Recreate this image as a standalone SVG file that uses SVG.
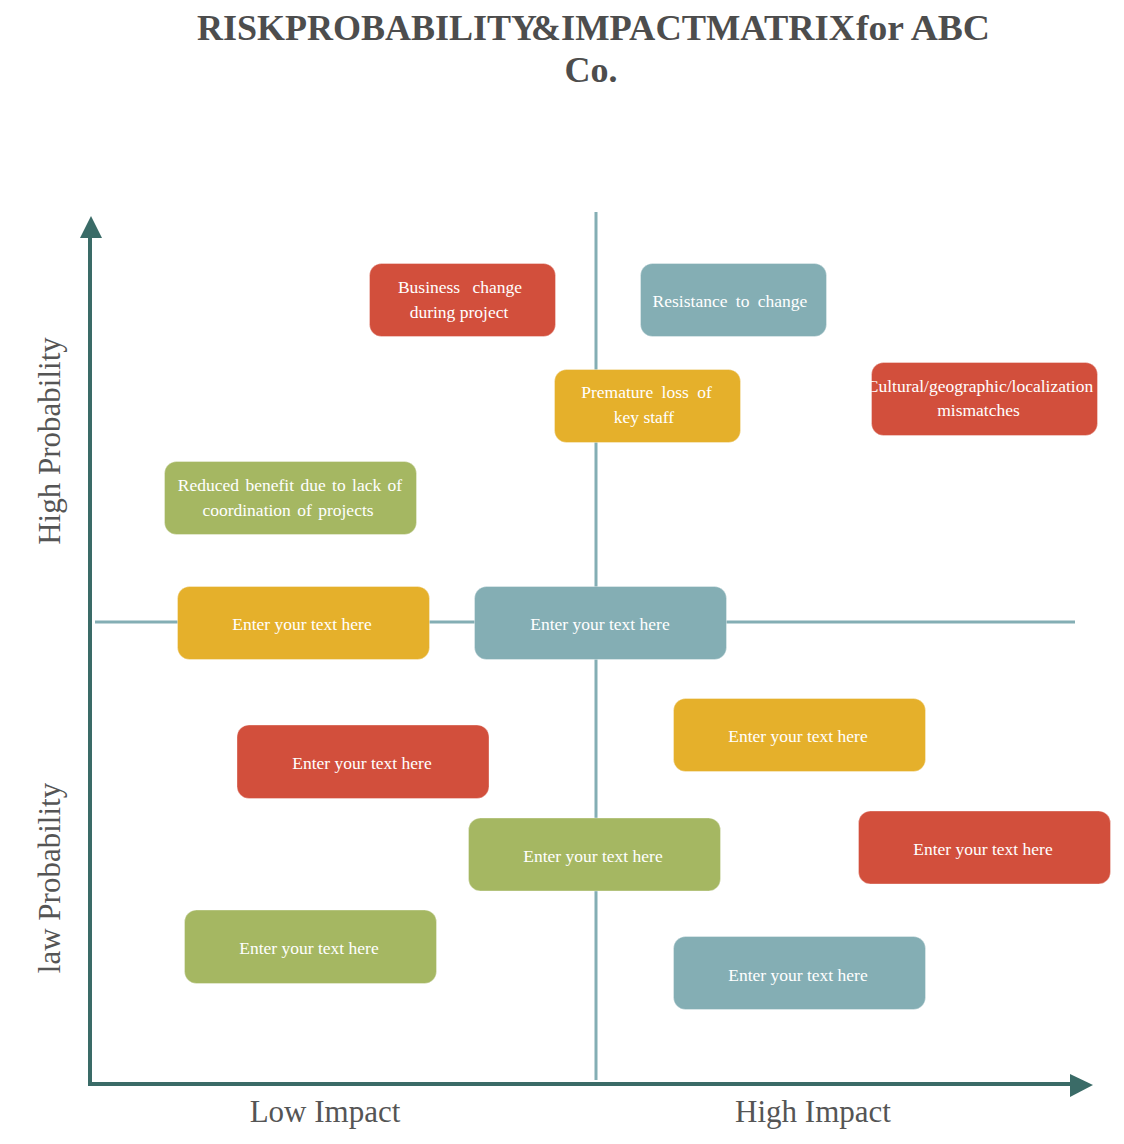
<svg xmlns="http://www.w3.org/2000/svg" width="1124" height="1144" viewBox="0 0 1124 1144">
<style>
.title{font-family:"Liberation Serif","Times New Roman",serif;font-weight:bold;font-size:36px;fill:#4D4D4D}
.axl{font-family:"Liberation Serif","Times New Roman",serif;font-size:31px;fill:#555555;text-anchor:middle}
.bt{font-family:"Liberation Serif","Times New Roman",serif;font-size:17.5px;fill:#FFFFFF;text-anchor:middle}
.box{stroke-width:1;stroke:#FFFFFF;stroke-opacity:0.35}
.red{fill:#D24F3C}
.teal{fill:#84AEB4}
.yel{fill:#E5B02B}
.grn{fill:#A5B762}
.axis{stroke:#3A6B67;stroke-width:4;fill:none}
.cross{stroke:#84AEB4;stroke-width:3;fill:none}
</style>
<rect width="1124" height="1144" fill="#FFFFFF"/>
<g id="title">
<text class="title" y="40"><tspan x="197">RISKPROBABILITY</tspan><tspan x="531">&amp;</tspan><tspan x="561" textLength="294" lengthAdjust="spacingAndGlyphs">IMPACTMATRIX</tspan><tspan x="856" textLength="134" lengthAdjust="spacingAndGlyphs">for ABC</tspan></text>
<text class="title" x="591" y="82" text-anchor="middle">Co.</text>
</g>
<g id="connectors">
<line class="cross" x1="596" y1="212" x2="596" y2="1080"/>
<line class="cross" x1="95" y1="622" x2="1075" y2="622"/>
<line class="axis" x1="90" y1="1086" x2="90" y2="236"/>
<polygon points="91,216 80,238 102,238" fill="#3A6B67"/>
<line class="axis" x1="88" y1="1084" x2="1072" y2="1084"/>
<polygon points="1093,1085 1070,1074 1070,1097" fill="#3A6B67"/>
</g>
<g id="axis-labels">
<text class="axl" transform="translate(60,441) rotate(-90)">High Probability</text>
<text class="axl" transform="translate(60,878) rotate(-90)">law Probability</text>
<text class="axl" x="325" y="1122">Low Impact</text>
<text class="axl" x="813" y="1122">High Impact</text>
</g>
<g id="n1"><rect class="box red" x="369.5" y="263.5" width="186" height="73" rx="12"/>
<text class="bt" x="460" y="293" word-spacing="8">Business change</text>
<text class="bt" x="459" y="318">during project</text></g>
<g id="n2"><rect class="box teal" x="640.5" y="263.5" width="186" height="73" rx="12"/>
<text class="bt" x="730" y="307" word-spacing="4">Resistance to change</text></g>
<g id="n3"><rect class="box yel" x="554.5" y="369.5" width="186" height="73" rx="12"/>
<text class="bt" x="646.5" y="398" word-spacing="4">Premature loss of</text>
<text class="bt" x="644" y="423">key staff</text></g>
<g id="n4"><rect class="box red" x="871.5" y="362.5" width="226" height="73" rx="12"/>
<text class="bt" x="980" y="391.5">Cultural/geographic/localization</text>
<text class="bt" x="978.5" y="416">mismatches</text></g>
<g id="n5"><rect class="box grn" x="164.5" y="461.5" width="252" height="73" rx="12"/>
<text class="bt" x="290" y="491" word-spacing="2">Reduced benefit due to lack of</text>
<text class="bt" x="288" y="516" word-spacing="2">coordination of projects</text></g>
<g id="n6"><rect class="box yel" x="177.5" y="586.5" width="252" height="73" rx="12"/>
<text class="bt" x="302" y="630">Enter your text here</text></g>
<g id="n7"><rect class="box teal" x="474.5" y="586.5" width="252" height="73" rx="12"/>
<text class="bt" x="600" y="630">Enter your text here</text></g>
<g id="n8"><rect class="box red" x="237" y="725" width="252" height="73.5" rx="12"/>
<text class="bt" x="362" y="769">Enter your text here</text></g>
<g id="n9"><rect class="box yel" x="673.5" y="698.5" width="252" height="73" rx="12"/>
<text class="bt" x="798" y="742">Enter your text here</text></g>
<g id="n10"><rect class="box grn" x="468.5" y="818" width="252" height="73" rx="12"/>
<text class="bt" x="593" y="862">Enter your text here</text></g>
<g id="n11"><rect class="box red" x="858.5" y="811" width="252" height="73" rx="12"/>
<text class="bt" x="983" y="855">Enter your text here</text></g>
<g id="n12"><rect class="box grn" x="184.5" y="910" width="252" height="73.5" rx="12"/>
<text class="bt" x="309" y="954">Enter your text here</text></g>
<g id="n13"><rect class="box teal" x="673.5" y="936.5" width="252" height="73" rx="12"/>
<text class="bt" x="798" y="980.5">Enter your text here</text></g>
</svg>
